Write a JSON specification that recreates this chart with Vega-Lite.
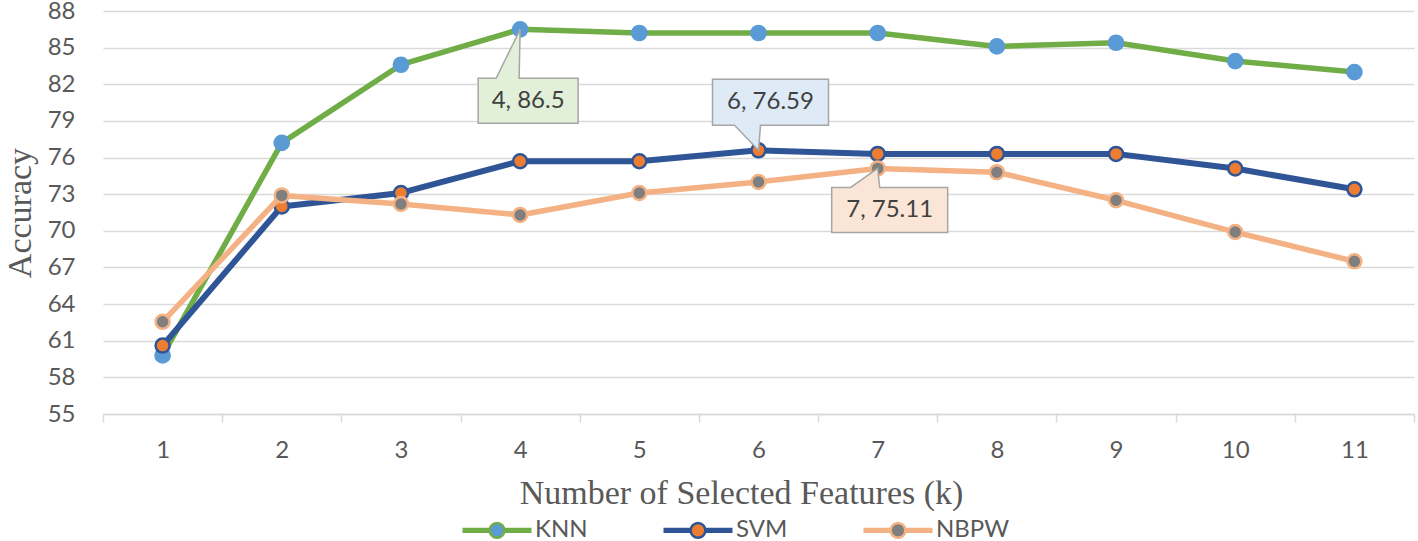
{
  "$schema": "https://vega.github.io/schema/vega-lite/v6.json",
  "width": 1311,
  "height": 403,
  "autosize": {"type": "none"},
  "padding": {"left": 103, "top": 11, "right": 4, "bottom": 127},
  "background": "white",
  "config": {
    "view": {"stroke": null},
    "font": "Lato",
    "legend": {
      "orient": "none",
      "legendX": 382,
      "legendY": 507,
      "direction": "horizontal",
      "title": null,
      "padding": 0,
      "symbolType": "M-4.93,-0.2 L-0.98,-0.2 M-4.93,0 L-1,0 M-4.93,0.2 L-0.98,0.2 M0.98,-0.2 L4.93,-0.2 M1,0 L4.93,0 M0.98,0.2 L4.93,0.2 M1.05,0 A1.05,1.05 0 1,1 -1.05,0 A1.05,1.05 0 1,1 1.05,0 Z",
      "symbolSize": 196,
      "symbolStrokeWidth": 2.5,
      "symbolOpacity": 1,
      "labelFont": "Lato",
      "labelFontSize": 24,
      "labelColor": "#595959",
      "labelOffset": 26,
      "columnPadding": 70
    }
  },
  "data": {
    "values": [
      {"series": "KNN", "k": 1, "acc": 59.8},
      {"series": "KNN", "k": 2, "acc": 77.2},
      {"series": "KNN", "k": 3, "acc": 83.6},
      {"series": "KNN", "k": 4, "acc": 86.5},
      {"series": "KNN", "k": 5, "acc": 86.2},
      {"series": "KNN", "k": 6, "acc": 86.2},
      {"series": "KNN", "k": 7, "acc": 86.2},
      {"series": "KNN", "k": 8, "acc": 85.1},
      {"series": "KNN", "k": 9, "acc": 85.4},
      {"series": "KNN", "k": 10, "acc": 83.9},
      {"series": "KNN", "k": 11, "acc": 83.0},
      {"series": "SVM", "k": 1, "acc": 60.6},
      {"series": "SVM", "k": 2, "acc": 72.0},
      {"series": "SVM", "k": 3, "acc": 73.1},
      {"series": "SVM", "k": 4, "acc": 75.7},
      {"series": "SVM", "k": 5, "acc": 75.7},
      {"series": "SVM", "k": 6, "acc": 76.59},
      {"series": "SVM", "k": 7, "acc": 76.3},
      {"series": "SVM", "k": 8, "acc": 76.3},
      {"series": "SVM", "k": 9, "acc": 76.3},
      {"series": "SVM", "k": 10, "acc": 75.1},
      {"series": "SVM", "k": 11, "acc": 73.4},
      {"series": "NBPW", "k": 1, "acc": 62.55},
      {"series": "NBPW", "k": 2, "acc": 72.9},
      {"series": "NBPW", "k": 3, "acc": 72.2},
      {"series": "NBPW", "k": 4, "acc": 71.3},
      {"series": "NBPW", "k": 5, "acc": 73.1},
      {"series": "NBPW", "k": 6, "acc": 74.0},
      {"series": "NBPW", "k": 7, "acc": 75.11},
      {"series": "NBPW", "k": 8, "acc": 74.8},
      {"series": "NBPW", "k": 9, "acc": 72.5},
      {"series": "NBPW", "k": 10, "acc": 69.9},
      {"series": "NBPW", "k": 11, "acc": 67.5}
    ]
  },
  "encoding": {
    "x": {
      "field": "k",
      "type": "ordinal",
      "scale": {"paddingInner": 0, "paddingOuter": 0},
      "axis": {
        "title": "Number of Selected Features (k)",
        "titleFont": "Liberation Serif",
        "titleFontSize": 34,
        "titleFontWeight": "normal",
        "titleColor": "#595959",
        "titlePadding": 14,
        "titleX": 638,
        "labelAngle": 0,
        "labelFont": "Lato",
        "labelFontSize": 24,
        "labelColor": "#595959",
        "labelPadding": 16,
        "tickBand": "extent",
        "tickSize": 8,
        "tickColor": "#D9D9D9",
        "tickWidth": 1.5,
        "domainColor": "#D9D9D9",
        "domainWidth": 1.5,
        "grid": false
      }
    },
    "y": {
      "field": "acc",
      "type": "quantitative",
      "scale": {"domain": [55, 88], "nice": false, "zero": false},
      "axis": {
        "title": "Accuracy",
        "titleFont": "Liberation Serif",
        "titleFontSize": 34,
        "titleFontWeight": "normal",
        "titleColor": "#595959",
        "titlePadding": 10,
        "values": [55, 58, 61, 64, 67, 70, 73, 76, 79, 82, 85, 88],
        "labelFont": "Lato",
        "labelFontSize": 24,
        "labelColor": "#595959",
        "labelPadding": 28,
        "ticks": false,
        "tickSize": 0,
        "domain": false,
        "grid": true,
        "gridColor": "#D9D9D9",
        "gridWidth": 1.5
      }
    }
  },
  "layer": [
    {
      "transform": [{"filter": "datum.series === 'KNN'"}],
      "mark": {"type": "line", "strokeWidth": 5.5, "strokeJoin": "round"},
      "encoding": {
        "stroke": {
          "field": "series",
          "type": "nominal",
          "scale": {"domain": ["KNN", "SVM", "NBPW"], "range": ["#70AD47", "#2F5597", "#F4B183"]},
          "legend": {"title": null}
        }
      }
    },
    {
      "transform": [{"filter": "datum.series === 'KNN'"}],
      "mark": {"type": "point", "filled": true, "opacity": 1, "size": 230, "stroke": "#5B9BD5", "strokeWidth": 1.5},
      "encoding": {
        "fill": {
          "field": "series",
          "type": "nominal",
          "scale": {"domain": ["KNN", "SVM", "NBPW"], "range": ["#5B9BD5", "#ED7D31", "#7F7F7F"]},
          "legend": {"title": null}
        }
      }
    },
    {
      "transform": [{"filter": "datum.series === 'SVM'"}],
      "mark": {"type": "line", "strokeWidth": 6, "strokeJoin": "round"},
      "encoding": {
        "stroke": {"field": "series", "type": "nominal"}
      }
    },
    {
      "transform": [{"filter": "datum.series === 'SVM'"}],
      "mark": {"type": "point", "filled": true, "opacity": 1, "size": 196, "strokeWidth": 2.5},
      "encoding": {
        "fill": {"field": "series", "type": "nominal"},
        "stroke": {"field": "series", "type": "nominal"}
      }
    },
    {
      "transform": [{"filter": "datum.series === 'NBPW'"}],
      "mark": {"type": "line", "strokeWidth": 5.5, "strokeJoin": "round"},
      "encoding": {
        "stroke": {"field": "series", "type": "nominal"}
      }
    },
    {
      "transform": [{"filter": "datum.series === 'NBPW'"}],
      "mark": {"type": "point", "filled": true, "opacity": 1, "size": 196, "strokeWidth": 2.5},
      "encoding": {
        "fill": {"field": "series", "type": "nominal"},
        "stroke": {"field": "series", "type": "nominal"}
      }
    },
    {
      "data": {"values": [{"k": 4, "acc": 86.5, "label": "4, 86.5"}]},
      "mark": {"type": "point", "filled": true, "opacity": 1, "size": 4, "fill": "#E2F0D9", "stroke": "#A6A6A6", "strokeWidth": 1.5,
        "shape": "M-42,49 L-24,49 L0,0 L-1,49 L58,49 L58,94 L-42,94 Z"}
    },
    {
      "data": {"values": [{"k": 4, "acc": 86.5, "label": "4, 86.5"}]},
      "mark": {"type": "text", "font": "Lato", "fontSize": 24, "color": "#404040", "dx": 8, "dy": 71.5, "baseline": "middle", "align": "center"},
      "encoding": {"text": {"field": "label"}}
    },
    {
      "data": {"values": [{"k": 6, "acc": 76.59, "label": "6, 76.59"}]},
      "mark": {"type": "point", "filled": true, "opacity": 1, "size": 4, "fill": "#DEEBF7", "stroke": "#A6A6A6", "strokeWidth": 1.5,
        "shape": "M-46,-71 L70,-71 L70,-25 L2,-25 L0,0 L-24,-25 L-46,-25 Z"}
    },
    {
      "data": {"values": [{"k": 6, "acc": 76.59, "label": "6, 76.59"}]},
      "mark": {"type": "text", "font": "Lato", "fontSize": 24, "color": "#404040", "dx": 12, "dy": -48, "baseline": "middle", "align": "center"},
      "encoding": {"text": {"field": "label"}}
    },
    {
      "data": {"values": [{"k": 7, "acc": 75.11, "label": "7, 75.11"}]},
      "mark": {"type": "point", "filled": true, "opacity": 1, "size": 4, "fill": "#FBE5D6", "stroke": "#A6A6A6", "strokeWidth": 1.5,
        "shape": "M-46,19 L-27,19 L0,0 L2,19 L70,19 L70,64 L-46,64 Z"}
    },
    {
      "data": {"values": [{"k": 7, "acc": 75.11, "label": "7, 75.11"}]},
      "mark": {"type": "text", "font": "Lato", "fontSize": 24, "color": "#404040", "dx": 12, "dy": 41.5, "baseline": "middle", "align": "center"},
      "encoding": {"text": {"field": "label"}}
    }
  ]
}
